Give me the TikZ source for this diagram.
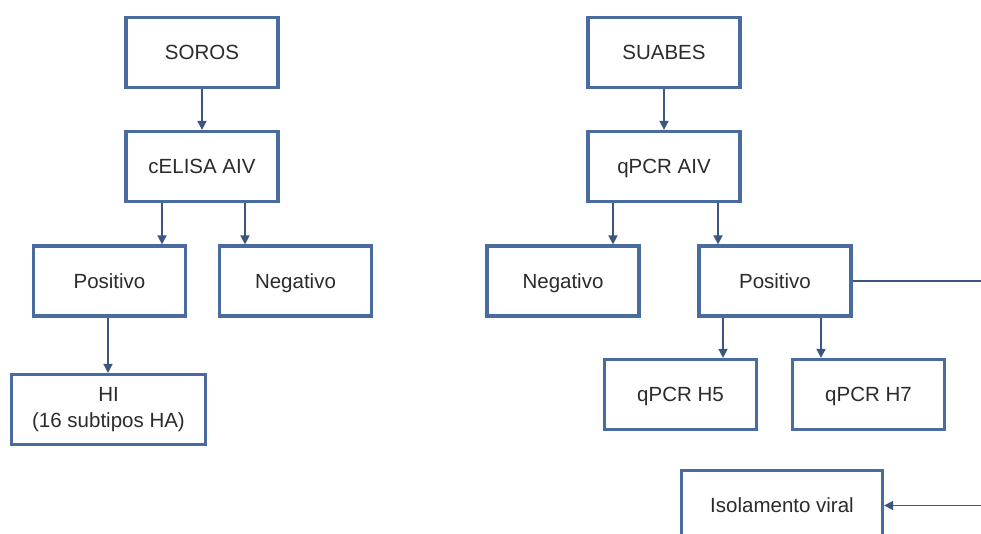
\documentclass[tikz,border=0pt]{standalone}
\usepackage{fontspec}
\setmainfont{Liberation Sans}
\usetikzlibrary{arrows.meta}
\definecolor{boxblue}{HTML}{4A6B9E}
\definecolor{arrblue}{HTML}{3D5680}
\definecolor{txt}{HTML}{2B2B2B}
\begin{document}
\begin{tikzpicture}[x=1pt,y=-1pt,
  box/.style={draw=boxblue,line width=3.2pt,fill=white,minimum width=152pt,minimum height=70pt,
    inner sep=0pt,align=center,text=txt,font=\fontsize{20.5}{25.5}\selectfont},
  one/.style={text height=14.7pt,text depth=0pt},
  arr/.style={draw=arrblue,line width=1.6pt,-{Triangle[length=9pt,width=9pt]}},
  ln/.style={draw=arrblue,line width=1.6pt}]
\useasboundingbox (0,0) rectangle (981,533);
\clip (0,0) rectangle (981,533);
\fill[white] (0,0) rectangle (981,533);
% left tree
\node[box,one] (soros) at (202,52.5) {SOROS};
\node[box,one] (celisa) at (202,166.5) {cELISA AIV};
\node[box,one] (posL) at (109.5,281) {Positivo};
\node[box,one] (negL) at (295.5,281) {Negativo};
\node[box,minimum width=194pt] (hi) at (108.5,409.5) {HI\\(16 subtipos HA)};
% right tree
\node[box,one] (suabes) at (664,52.5) {SUABES};
\node[box,one] (qpcr) at (664,166.5) {qPCR AIV};
\node[box,one] (negR) at (563,281) {Negativo};
\node[box,one] (posR) at (775,281) {Positivo};
\node[box,one] (h5) at (680.5,394.5) {qPCR H5};
\node[box,one] (h7) at (868.5,394.5) {qPCR H7};
\node[box,one,minimum width=201pt] (iso) at (782,505.5) {Isolamento viral};
\coordinate (edgeA) at (981,281);
\coordinate (edgeB) at (981,505.5);
% connectors
\draw[arr] (soros.south) -- (celisa.north);
\draw[arr] ([xshift=-40pt]celisa.south) -- ([xshift=-40pt]celisa.south |- posL.north);
\draw[arr] ([xshift=43pt]celisa.south) -- ([xshift=43pt]celisa.south |- negL.north);
\draw[arr] ([xshift=-1.5pt]posL.south) -- ([xshift=-1.5pt]posL.south |- hi.north);
\draw[arr] (suabes.south) -- (qpcr.north);
\draw[arr] ([xshift=-51pt]qpcr.south) -- ([xshift=-51pt]qpcr.south |- negR.north);
\draw[arr] ([xshift=54pt]qpcr.south) -- ([xshift=54pt]qpcr.south |- posR.north);
\draw[arr] ([xshift=-52pt]posR.south) -- ([xshift=-52pt]posR.south |- h5.north);
\draw[arr] ([xshift=46pt]posR.south) -- ([xshift=46pt]posR.south |- h7.north);
\draw[ln] (posR.east) -- (edgeA);
\draw[arr] (edgeB) -- (iso.east);
\end{tikzpicture}
\end{document}
